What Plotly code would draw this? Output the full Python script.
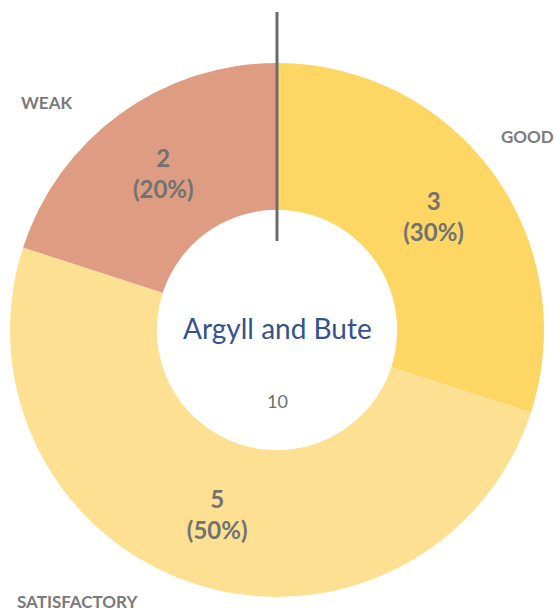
import plotly.graph_objects as go

categories = ["GOOD", "SATISFACTORY", "WEAK"]
counts = [3, 5, 2]
colors = ["#FDD663", "#FEE092", "#DE9D82"]
center_title = "Argyll and Bute"
total = sum(counts)

W, H = 557, 611
cx, cy, R = 277, 330, 267  # pixel geometry of the ring

fig = go.Figure(go.Pie(
    labels=categories,
    values=counts,
    sort=False,
    direction="clockwise",
    rotation=0,
    hole=0.45,
    marker=dict(colors=colors, line=dict(width=0)),
    texttemplate="%{value}<br>(%{percent})",
    textposition="inside",
    insidetextorientation="horizontal",
    textfont=dict(family="Lato", size=24, color="#727272", weight="bold"),
    showlegend=False,
    hoverinfo="label+value+percent",
    domain=dict(x=[(cx - R) / W, (cx + R) / W],
                y=[(H - cy - R) / H, (H - cy + R) / H]),
))

label_pos = {"WEAK": (46, 103), "GOOD": (527, 136), "SATISFACTORY": (77, 601)}
annotations = []
for c in categories:
    px, py = label_pos[c]
    annotations.append(dict(x=px / W, y=1 - py / H, xref="paper", yref="paper",
                            text=c, showarrow=False, xanchor="center", yanchor="middle",
                            font=dict(family="Lato", size=17, color="#7a7a7a", weight="bold")))
annotations.append(dict(x=cx / W, y=1 - 328 / H, xref="paper", yref="paper", text=center_title,
                        showarrow=False, font=dict(family="Lato", size=28, color="#34528c")))
annotations.append(dict(x=cx / W, y=1 - 401 / H, xref="paper", yref="paper", text=str(total),
                        showarrow=False, font=dict(family="Lato", size=18, color="#6f6f6f")))

fig.update_layout(
    width=W, height=H,
    margin=dict(l=0, r=0, t=0, b=0),
    paper_bgcolor="white",
    annotations=annotations,
    shapes=[dict(type="line", xref="paper", yref="paper",
                 x0=cx / W, x1=cx / W, y0=1 - 12 / H, y1=1 - 241 / H,
                 line=dict(color="#6b6b6b", width=3), layer="above")],
)

fig.write_html("out.html")
